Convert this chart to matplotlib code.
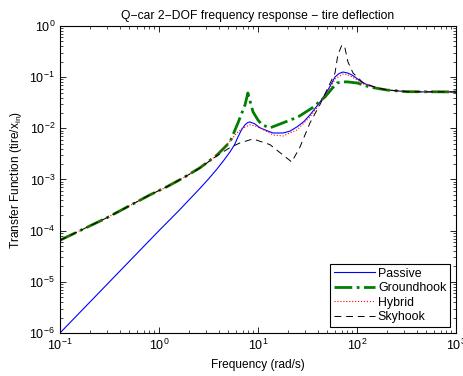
import matplotlib
matplotlib.use('Agg')
import matplotlib.pyplot as plt
from matplotlib.ticker import LogLocator, NullFormatter

plt.rcParams['font.family'] = ['Liberation Sans', 'DejaVu Sans']
plt.rcParams['mathtext.fontset'] = 'custom'
plt.rcParams['mathtext.rm'] = 'Liberation Sans'
plt.rcParams['mathtext.it'] = 'Liberation Sans:italic'

# tire deflection / road input, frequency in rad/s
freq_passive = [0.1, 1.0, 1.63, 2.59, 3.2, 3.85, 4.5, 5.21, 5.8, 6.28, 6.8, 7.39, 7.9,
                8.3, 9.3, 10.5, 12.3, 14.2, 17.9, 21, 24.8, 29, 33.5, 42, 50.9, 60,
                66, 72.3, 81, 89, 100, 115, 135, 159, 206, 320, 500, 1000]
tf_passive = [1.0e-6, 1.0e-4, 2.6e-4, 6.7e-4, 1.05e-3, 1.6e-3, 2.35e-3, 3.45e-3, 4.8e-3,
              6.8e-3, 9.3e-3, 0.0117, 0.0130, 0.0133, 0.0122, 0.0102, 0.0090, 0.0081,
              0.0081, 0.0088, 0.0107, 0.0135, 0.0183, 0.032, 0.0563, 0.101, 0.118,
              0.126, 0.12, 0.110, 0.094, 0.077, 0.068, 0.0616, 0.056, 0.0518, 0.0515,
              0.0515]

freq_ground = [0.1, 0.3, 0.81, 1.2, 1.75, 2.59, 3.85, 5.21, 6.28, 7.39, 7.9, 8.9, 10,
               11.0, 13.2, 17.9, 25.4, 35.2, 47.5, 56, 62.8, 70, 79, 100, 135, 200,
               320, 1000]
tf_ground = [6.5e-5, 1.8e-4, 5.0e-4, 7.2e-4, 1.07e-3, 1.69e-3, 3.0e-3, 5.4e-3, 0.0128,
             0.0286, 0.049, 0.021, 0.0145, 0.0117, 0.0102, 0.0128, 0.0167, 0.025,
             0.041, 0.060, 0.077, 0.080, 0.081, 0.077, 0.064, 0.056, 0.052, 0.0515]

freq_hybrid = [0.1, 0.3, 0.81, 1.2, 1.75, 2.59, 3.85, 5.21, 6.1, 7.1, 8.3, 9.5, 11,
               14.2, 17.9, 24.8, 33.5, 42, 51, 60, 72, 80, 90, 115, 159, 206, 320,
               1000]
tf_hybrid = [6.5e-5, 1.8e-4, 5.0e-4, 7.2e-4, 1.07e-3, 1.69e-3, 3.0e-3, 5.6e-3, 8.1e-3,
             0.0102, 0.0117, 0.0110, 0.0097, 0.0074, 0.0071, 0.0093, 0.0167, 0.030,
             0.052, 0.092, 0.115, 0.112, 0.10, 0.074, 0.061, 0.056, 0.0518, 0.0515]

freq_sky = [0.1, 0.3, 0.81, 1.2, 1.75, 2.59, 3.85, 5.21, 6.6, 8.9, 13.2, 17.9, 21.9,
            26.4, 33.5, 42.2, 50, 60, 64, 70.5, 75.6, 81, 91, 115, 159, 206, 320,
            1000]
tf_sky = [6.5e-5, 1.8e-4, 5.0e-4, 7.2e-4, 1.07e-3, 1.68e-3, 2.9e-3, 4.2e-3, 5.2e-3,
          6.2e-3, 4.8e-3, 3.0e-3, 2.2e-3, 4.2e-3, 0.0128, 0.029, 0.058, 0.121, 0.27,
          0.43, 0.37, 0.198, 0.121, 0.078, 0.062, 0.056, 0.0518, 0.0515]

fig = plt.figure(figsize=(4.64, 3.76), dpi=100)
ax = fig.add_axes([0.1293, 0.1144, 0.8535, 0.8165])

ax.loglog(freq_passive, tf_passive, color='b', linewidth=0.8, label='Passive')
ax.loglog(freq_ground, tf_ground, color=(0, 0.5, 0), linestyle='-.', linewidth=2.0,
          label='Groundhook')
ax.loglog(freq_hybrid, tf_hybrid, color='r', linestyle=':', linewidth=0.8,
          label='Hybrid')
ax.loglog(freq_sky, tf_sky, color='k', linestyle=(0, (7, 5)), linewidth=0.7,
          label='Skyhook')

ax.set_xlim(0.1, 1000)
ax.set_ylim(1e-6, 1)
ax.xaxis.set_major_locator(LogLocator(base=10, numticks=10))
ax.yaxis.set_major_locator(LogLocator(base=10, numticks=10))
ax.xaxis.set_minor_locator(LogLocator(base=10, subs=range(2, 10), numticks=20))
ax.yaxis.set_minor_locator(LogLocator(base=10, subs=range(2, 10), numticks=20))
ax.xaxis.set_minor_formatter(NullFormatter())
ax.yaxis.set_minor_formatter(NullFormatter())
ax.tick_params(which='both', direction='in', top=True, right=True, labelsize=9)
ax.tick_params(which='major', length=4, width=0.6)
ax.tick_params(which='minor', length=2, width=0.5)
for s in ax.spines.values():
    s.set_linewidth(0.8)

ax.set_title('Q\u2212car 2\u2212DOF frequency response \u2212 tire deflection',
             fontsize=8.7, pad=5)
ax.set_xlabel('Frequency (rad/s)', fontsize=8.6)
ax.set_ylabel('Transfer Function (tire/x$_{\\mathrm{in}}$)', fontsize=8.6)

leg = ax.legend(loc='lower right', fontsize=8.9, fancybox=False, framealpha=1,
                edgecolor='k', borderpad=0.3, labelspacing=0.2, handlelength=3.3,
                handletextpad=0.25, borderaxespad=0.5)
leg.get_frame().set_linewidth(0.8)

fig.savefig('out.png', dpi=100)
